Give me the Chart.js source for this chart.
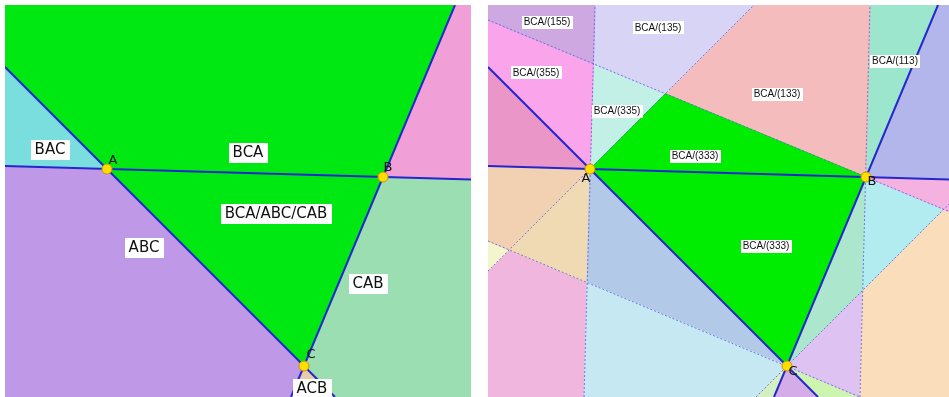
<!DOCTYPE html>
<html>
<head>
<meta charset="utf-8">
<script src="https://cdn.jsdelivr.net/npm/chart.js@4/dist/chart.umd.min.js"></script>
<style>
  html, body { margin: 0; padding: 0; background: #fff; width: 949px; height: 397px; overflow: hidden; }
  canvas { position: absolute; top: 5px; }
  #left { left: 5px; width: 466px; height: 392px; }
  #right { left: 488px; width: 461px; height: 392px; }
</style>
</head>
<body>
<canvas id="left" width="466" height="392"></canvas>
<canvas id="right" width="461" height="392"></canvas>
<script>
// ---------- plane coordinates (y grows upward) ----------
const panelHeight = 392;
const leftWidth = 466;
const rightWidth = 461;

// triangle vertices, identical in both panels
const vertexNames = ['A', 'B', 'C'];
const vertexPoints = [[102, 228], [378, 220], [299, 31]];

// extended triangle sides (solid blue)
const sideAB_left = [[0, 231], [466, 217.5]];
const sideAB_right = [[0, 231], [461, 217.6]];
const sideAC = [[0, 330], [330, 0]];
const sideBC = [[450, 392], [286, 0]];

// ---------- left panel: regions by ordering ----------
const leftGreen = [[0, 392], [450, 392], [378, 220], [299, 31], [102, 228], [0, 330]];
const leftBAC = [[0, 330], [102, 228], [0, 231]];
const leftTopRight = [[450, 392], [466, 392], [466, 217.5], [378, 220]];
const leftABC = [[0, 231], [102, 228], [299, 31], [286, 0], [0, 0]];
const leftACB = [[299, 31], [286, 0], [330, 0]];
const leftCAB = [[378, 220], [466, 217.5], [466, 0], [330, 0], [299, 31]];

const leftLabelTexts = ['BAC', 'BCA', 'BCA/ABC/CAB', 'ABC', 'CAB', 'ACB'];
const leftLabelAt = [[45, 247], [243, 244], [271, 183], [139, 149], [363, 113], [307, 8]];

// ---------- right panel: dotted division lines ----------
const divA_vertical = [[96, 0], [107, 392]];
const divB_vertical = [[372, 0], [382, 392]];
const divB_slant = [[0, 377], [461, 185.5]];
const divC_slant = [[0, 156], [372, 0]];
const divA_diag = [[0, 126], [266, 392]];
const divC_diag = [[268, 0], [461, 193]];

// ---------- right panel: cells ----------
const cell155 = [[0, 392], [107, 392], [105.4, 333.2], [0, 377]];
const cell355 = [[0, 377], [105.4, 333.2], [102, 228], [0, 330]];
const cellLeftOfA = [[0, 330], [102, 228], [0, 231]];
const cell135 = [[107, 392], [266, 392], [177.3, 303.3], [105.4, 333.2]];
const cell335 = [[105.4, 333.2], [177.3, 303.3], [102, 228]];
const cell133 = [[266, 392], [382, 392], [378, 220], [177.3, 303.3]];
const cell113 = [[382, 392], [450, 392], [378, 220]];
const cellTopRight = [[450, 392], [461, 392], [461, 217.6], [378, 220]];
const cellRightOfB = [[378, 220], [461, 217.6], [461, 185.5]];
const cellBelowB = [[378, 220], [455.7, 187.7], [374.7, 106.7]];
const cellFarRight = [[455.7, 187.7], [461, 185.5], [461, 0], [372, 0], [374.7, 106.7]];
const cellAlongBC = [[378, 220], [374.7, 106.7], [299, 31]];
const cellRightOfC = [[299, 31], [374.7, 106.7], [372, 0]];
const cellBelowC1 = [[299, 31], [372, 0], [330, 0]];
const cellBelowC2 = [[299, 31], [330, 0], [286, 0]];
const cellBelowC3 = [[299, 31], [286, 0], [268, 0]];
const cellBottomMid = [[99.2, 114.4], [299, 31], [268, 0], [96, 0]];
const cellAlongAC = [[102, 228], [99.2, 114.4], [299, 31]];
const cellBelowA = [[102, 228], [21.1, 147.1], [99.2, 114.4]];
const cellLeftBelowAB = [[0, 231], [102, 228], [21.1, 147.1], [0, 156]];
const cellLeftSmall = [[0, 156], [21.1, 147.1], [0, 126]];
const cellBottomLeft = [[0, 126], [21.1, 147.1], [99.2, 114.4], [96, 0], [0, 0]];
const cell333 = [[102, 228], [177.3, 303.3], [378, 220], [299, 31]];

const rightLabelTexts = ['BCA/(155)', 'BCA/(135)', 'BCA/(355)', 'BCA/(113)', 'BCA/(335)', 'BCA/(133)', 'BCA/(333)', 'BCA/(333)'];
const rightLabelAt = [[59, 375], [170, 369], [48, 324], [407, 336], [129, 286], [289, 303], [207, 241], [278, 151]];

// ---------- styling ----------
const GREEN = 'rgb(0,232,18)';
const SIDE_COLOR = 'rgb(38,38,205)';
const DIV_COLOR = 'rgba(95,95,225,0.85)';

const toXY = pts => pts.map(([x, y]) => ({ x, y }));

function polygon(pts, color) {
  return {
    data: toXY(pts.concat([pts[0]])),
    backgroundColor: color,
    borderColor: color,
    borderWidth: 1,
    pointRadius: 0,
    fill: 'shape',
    order: 10
  };
}
function segment(pts, color, width, dash) {
  return {
    data: toXY(pts),
    borderColor: color,
    borderWidth: width,
    borderDash: dash || [],
    pointRadius: 0,
    fill: false,
    order: dash ? 3 : 2
  };
}
function vertices() {
  return {
    data: toXY(vertexPoints),
    showLine: false,
    pointRadius: 5,
    pointBackgroundColor: 'rgb(255,222,0)',
    pointBorderColor: 'rgb(205,150,0)',
    pointBorderWidth: 1,
    order: 1
  };
}

// white-boxed region labels and vertex letters
const textPlugin = {
  id: 'panelText',
  afterDatasetsDraw(chart, args, opts) {
    const { ctx } = chart;
    const xs = chart.scales.x, ys = chart.scales.y;
    ctx.save();
    ctx.font = opts.font;
    ctx.textAlign = 'center';
    ctx.textBaseline = 'middle';
    opts.texts.forEach((t, i) => {
      const px = xs.getPixelForValue(opts.at[i][0]);
      const py = ys.getPixelForValue(opts.at[i][1]);
      const w = Math.round(ctx.measureText(t).width + 2 * opts.padX);
      const h = opts.boxH;
      ctx.fillStyle = '#fff';
      ctx.fillRect(Math.round(px - w / 2), Math.round(py - h / 2), w, h);
      ctx.fillStyle = '#111';
      ctx.fillText(t, px, py + 0.5);
    });
    ctx.font = opts.vertexFont;
    ctx.fillStyle = '#111';
    vertexNames.forEach((n, i) => {
      const px = xs.getPixelForValue(vertexPoints[i][0]) + opts.vertexOffsets[i][0];
      const py = ys.getPixelForValue(vertexPoints[i][1]) + opts.vertexOffsets[i][1];
      ctx.fillText(n, px, py);
    });
    ctx.restore();
  }
};

function build(id, width, datasets, textOpts) {
  return new Chart(document.getElementById(id), {
    type: 'line',
    data: { datasets },
    options: {
      responsive: false,
      animation: false,
      devicePixelRatio: 1,
      events: [],
      layout: { padding: 0, autoPadding: false },
      scales: {
        x: { type: 'linear', min: 0, max: width, display: false },
        y: { type: 'linear', min: 0, max: panelHeight, display: false }
      },
      plugins: { legend: { display: false }, tooltip: { enabled: false }, panelText: textOpts }
    },
    plugins: [textPlugin]
  });
}

// left panel
build('left', leftWidth, [
  vertices(),
  segment(sideAB_left, SIDE_COLOR, 2),
  segment(sideAC, SIDE_COLOR, 2),
  segment(sideBC, SIDE_COLOR, 2),
  polygon(leftGreen, GREEN),
  polygon(leftBAC, 'rgb(122,222,222)'),
  polygon(leftTopRight, 'rgb(240,160,215)'),
  polygon(leftABC, 'rgb(192,152,232)'),
  polygon(leftACB, 'rgb(232,202,172)'),
  polygon(leftCAB, 'rgb(155,222,178)')
], {
  font: '15px "DejaVu Sans"', padX: 4, boxH: 20,
  texts: leftLabelTexts, at: leftLabelAt,
  vertexFont: '13px "DejaVu Sans"',
  vertexOffsets: [[6, -8], [5, -9], [7, -11]]
});

// right panel
build('right', rightWidth, [
  vertices(),
  segment(sideAB_right, SIDE_COLOR, 2),
  segment(sideAC, SIDE_COLOR, 2),
  segment(sideBC, SIDE_COLOR, 2),
  segment(divA_vertical, DIV_COLOR, 1, [2, 2]),
  segment(divB_vertical, DIV_COLOR, 1, [2, 2]),
  segment(divB_slant, DIV_COLOR, 1, [2, 2]),
  segment(divC_slant, DIV_COLOR, 1, [2, 2]),
  segment(divA_diag, DIV_COLOR, 1, [2, 2]),
  segment(divC_diag, DIV_COLOR, 1, [2, 2]),
  polygon(cell333, 'rgb(0,236,0)'),
  polygon(cell155, 'rgb(205,168,225)'),
  polygon(cell355, 'rgb(250,165,235)'),
  polygon(cellLeftOfA, 'rgb(235,150,200)'),
  polygon(cell135, 'rgb(215,212,245)'),
  polygon(cell335, 'rgb(195,240,230)'),
  polygon(cell133, 'rgb(245,188,190)'),
  polygon(cell113, 'rgb(155,230,205)'),
  polygon(cellTopRight, 'rgb(178,182,235)'),
  polygon(cellRightOfB, 'rgb(245,178,225)'),
  polygon(cellBelowB, 'rgb(178,235,240)'),
  polygon(cellFarRight, 'rgb(250,222,188)'),
  polygon(cellAlongBC, 'rgb(172,230,205)'),
  polygon(cellRightOfC, 'rgb(222,195,242)'),
  polygon(cellBelowC1, 'rgb(205,245,175)'),
  polygon(cellBelowC2, 'rgb(212,172,232)'),
  polygon(cellBelowC3, 'rgb(212,240,195)'),
  polygon(cellBottomMid, 'rgb(198,232,242)'),
  polygon(cellAlongAC, 'rgb(178,202,232)'),
  polygon(cellBelowA, 'rgb(240,218,180)'),
  polygon(cellLeftBelowAB, 'rgb(242,208,178)'),
  polygon(cellLeftSmall, 'rgb(245,245,205)'),
  polygon(cellBottomLeft, 'rgb(240,182,222)')
], {
  font: '10px "Liberation Sans"', padX: 2, boxH: 13,
  texts: rightLabelTexts, at: rightLabelAt,
  vertexFont: '13px "DejaVu Sans"',
  vertexOffsets: [[-4, 10], [6, 5], [6, 6]]
});
</script>
</body>
</html>
